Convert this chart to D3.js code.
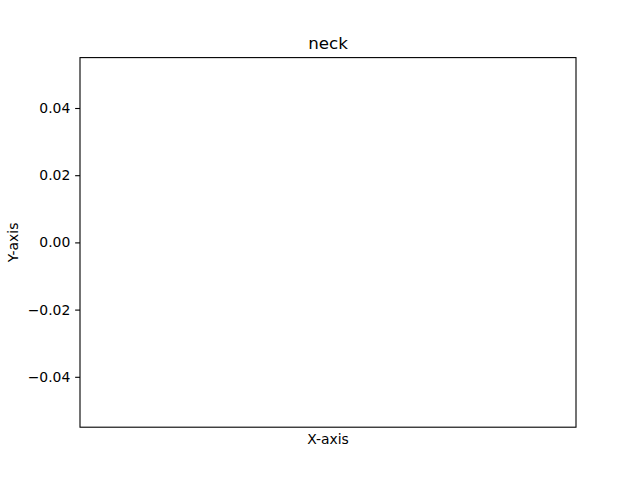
<!DOCTYPE html>
<html>
<head>
<meta charset="utf-8">
<script src="https://cdn.jsdelivr.net/npm/d3@7"></script>
<style>
html, body { margin: 0; padding: 0; background: #fff; }
svg { display: block; font-family: "DejaVu Sans", sans-serif; }
</style>
</head>
<body>
<script>
// Data (the reference chart is empty: no series values)
const categories = [];
const seriesValues = [];
const yTickValues = [-0.04, -0.02, 0.00, 0.02, 0.04];
const yDomain = [-0.055, 0.055];
const titleText = "neck";
const xLabelText = "X-axis";
const yLabelText = "Y-axis";

const W = 640, H = 480;
const margin = { left: 80, right: 64, top: 57.6, bottom: 52.8 };
const iw = W - margin.left - margin.right;
const ih = H - margin.top - margin.bottom;

const svg = d3.select("body").append("svg").attr("width", W).attr("height", H);
const g = svg.append("g").attr("transform", `translate(${margin.left},${margin.top})`);

const x = d3.scaleBand().domain(categories).range([0, iw]);
const y = d3.scaleLinear().domain(yDomain).range([ih, 0]);

// points (none)
g.selectAll("circle.pt").data(seriesValues).enter().append("circle")
  .attr("class", "pt")
  .attr("cx", (d, i) => x(categories[i]) + x.bandwidth() / 2)
  .attr("cy", d => y(d)).attr("r", 3);

const fmt = d => d3.format(".2f")(d).replace("-", "\u2212");
const yAxis = d3.axisLeft(y).tickValues(yTickValues).tickFormat(fmt)
  .tickSize(4.86).tickPadding(4.86);
const ya = g.append("g").call(yAxis);
ya.select(".domain").remove();
ya.selectAll("text").attr("font-size", "13.9px").attr("fill", "#000")
  .attr("font-family", "DejaVu Sans, sans-serif");
ya.selectAll("line").attr("stroke", "#000").attr("stroke-width", 1.1);

const xa = g.append("g").attr("transform", `translate(0,${ih})`)
  .call(d3.axisBottom(x).tickSize(0));
xa.select(".domain").remove();

// frame
g.append("rect").attr("x", 0).attr("y", 0).attr("width", iw).attr("height", ih)
  .attr("fill", "none").attr("stroke", "#000").attr("stroke-width", 1.1);

svg.append("text").attr("x", margin.left + iw / 2).attr("y", 49)
  .attr("text-anchor", "middle").attr("font-size", "16.67px").text(titleText);

svg.append("text").attr("x", margin.left + iw / 2).attr("y", 444)
  .attr("text-anchor", "middle").attr("font-size", "13.9px").text(xLabelText);

svg.append("text").attr("transform", `translate(17.5,${margin.top + ih / 2}) rotate(-90)`)
  .attr("text-anchor", "middle").attr("font-size", "13.9px").text(yLabelText);
</script>
</body>
</html>
